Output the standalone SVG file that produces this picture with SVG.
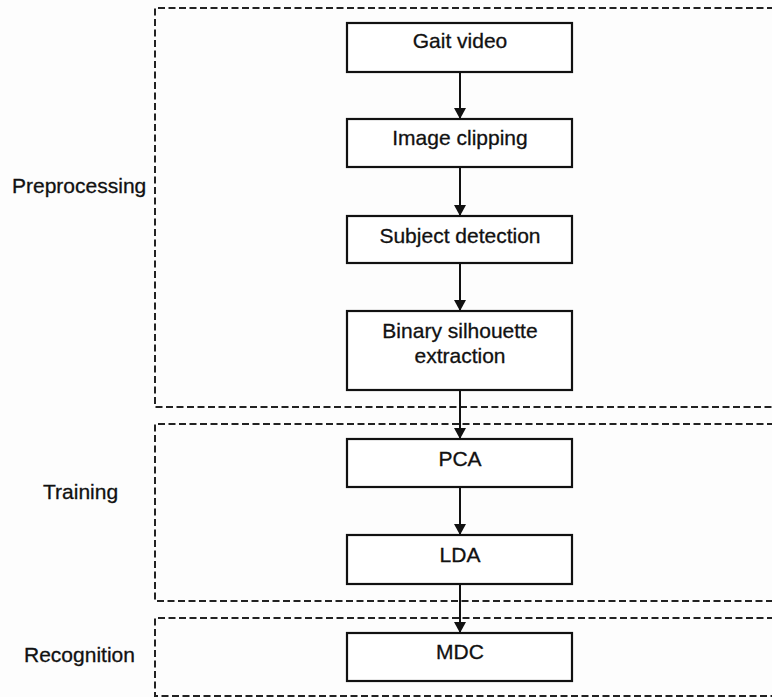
<svg xmlns="http://www.w3.org/2000/svg" width="772" height="697" viewBox="0 0 772 697">
<style>
.bg{fill:#fdfdfd}
.grp{fill:none;stroke:#222;stroke-width:2;stroke-dasharray:7 3.5}
.box{fill:#fff;stroke:#111;stroke-width:2.2}
.t{font-family:"Liberation Sans",Arial,sans-serif;font-size:21px;fill:#111;stroke:#111;stroke-width:0.3;text-anchor:middle}
.lbl{font-family:"Liberation Sans",Arial,sans-serif;font-size:21px;fill:#111;stroke:#111;stroke-width:0.3}
.c{stroke:#111;stroke-width:2;fill:none;marker-end:url(#ah)}
</style>
<defs>
<marker id="ah" markerWidth="12" markerHeight="14" refX="11" refY="7" orient="auto" markerUnits="userSpaceOnUse">
<path d="M0,1 L11,7 L0,13 Z" fill="#111"/>
</marker>
</defs>
<rect class="bg" x="0" y="0" width="772" height="697"/>
<g id="group-preprocessing">
<path class="grp" d="M774,8 H155 V407 H774"/>
<text class="lbl" x="12" y="193">Preprocessing</text>
</g>
<g id="group-training">
<path class="grp" d="M774,424 H155 V601 H774"/>
<text class="lbl" x="43" y="499">Training</text>
</g>
<g id="group-recognition">
<path class="grp" d="M774,618 H155 V696 H774"/>
<text class="lbl" x="24" y="662">Recognition</text>
</g>
<g id="connectors">
<line class="c" x1="460" y1="72" x2="460" y2="119"/>
<line class="c" x1="460" y1="167" x2="460" y2="216"/>
<line class="c" x1="460" y1="263" x2="460" y2="311"/>
<line class="c" x1="460" y1="390" x2="460" y2="439"/>
<line class="c" x1="460" y1="487" x2="460" y2="535"/>
<line class="c" x1="460" y1="584" x2="460" y2="633"/>
</g>
<g id="node-gait-video">
<rect class="box" x="347" y="23" width="225" height="49"/>
<text class="t" x="460" y="48">Gait video</text>
</g>
<g id="node-image-clipping">
<rect class="box" x="347" y="119" width="225" height="48"/>
<text class="t" x="460" y="145">Image clipping</text>
</g>
<g id="node-subject-detection">
<rect class="box" x="347" y="216" width="225" height="47"/>
<text class="t" x="460" y="243">Subject detection</text>
</g>
<g id="node-binary-silhouette">
<rect class="box" x="347" y="311" width="225" height="79"/>
<text class="t" x="460" y="338">Binary silhouette</text>
<text class="t" x="460" y="363">extraction</text>
</g>
<g id="node-pca">
<rect class="box" x="347" y="439" width="225" height="48"/>
<text class="t" x="460" y="466">PCA</text>
</g>
<g id="node-lda">
<rect class="box" x="347" y="535" width="225" height="49"/>
<text class="t" x="460" y="562">LDA</text>
</g>
<g id="node-mdc">
<rect class="box" x="347" y="633" width="225" height="48"/>
<text class="t" x="460" y="659">MDC</text>
</g>
</svg>
